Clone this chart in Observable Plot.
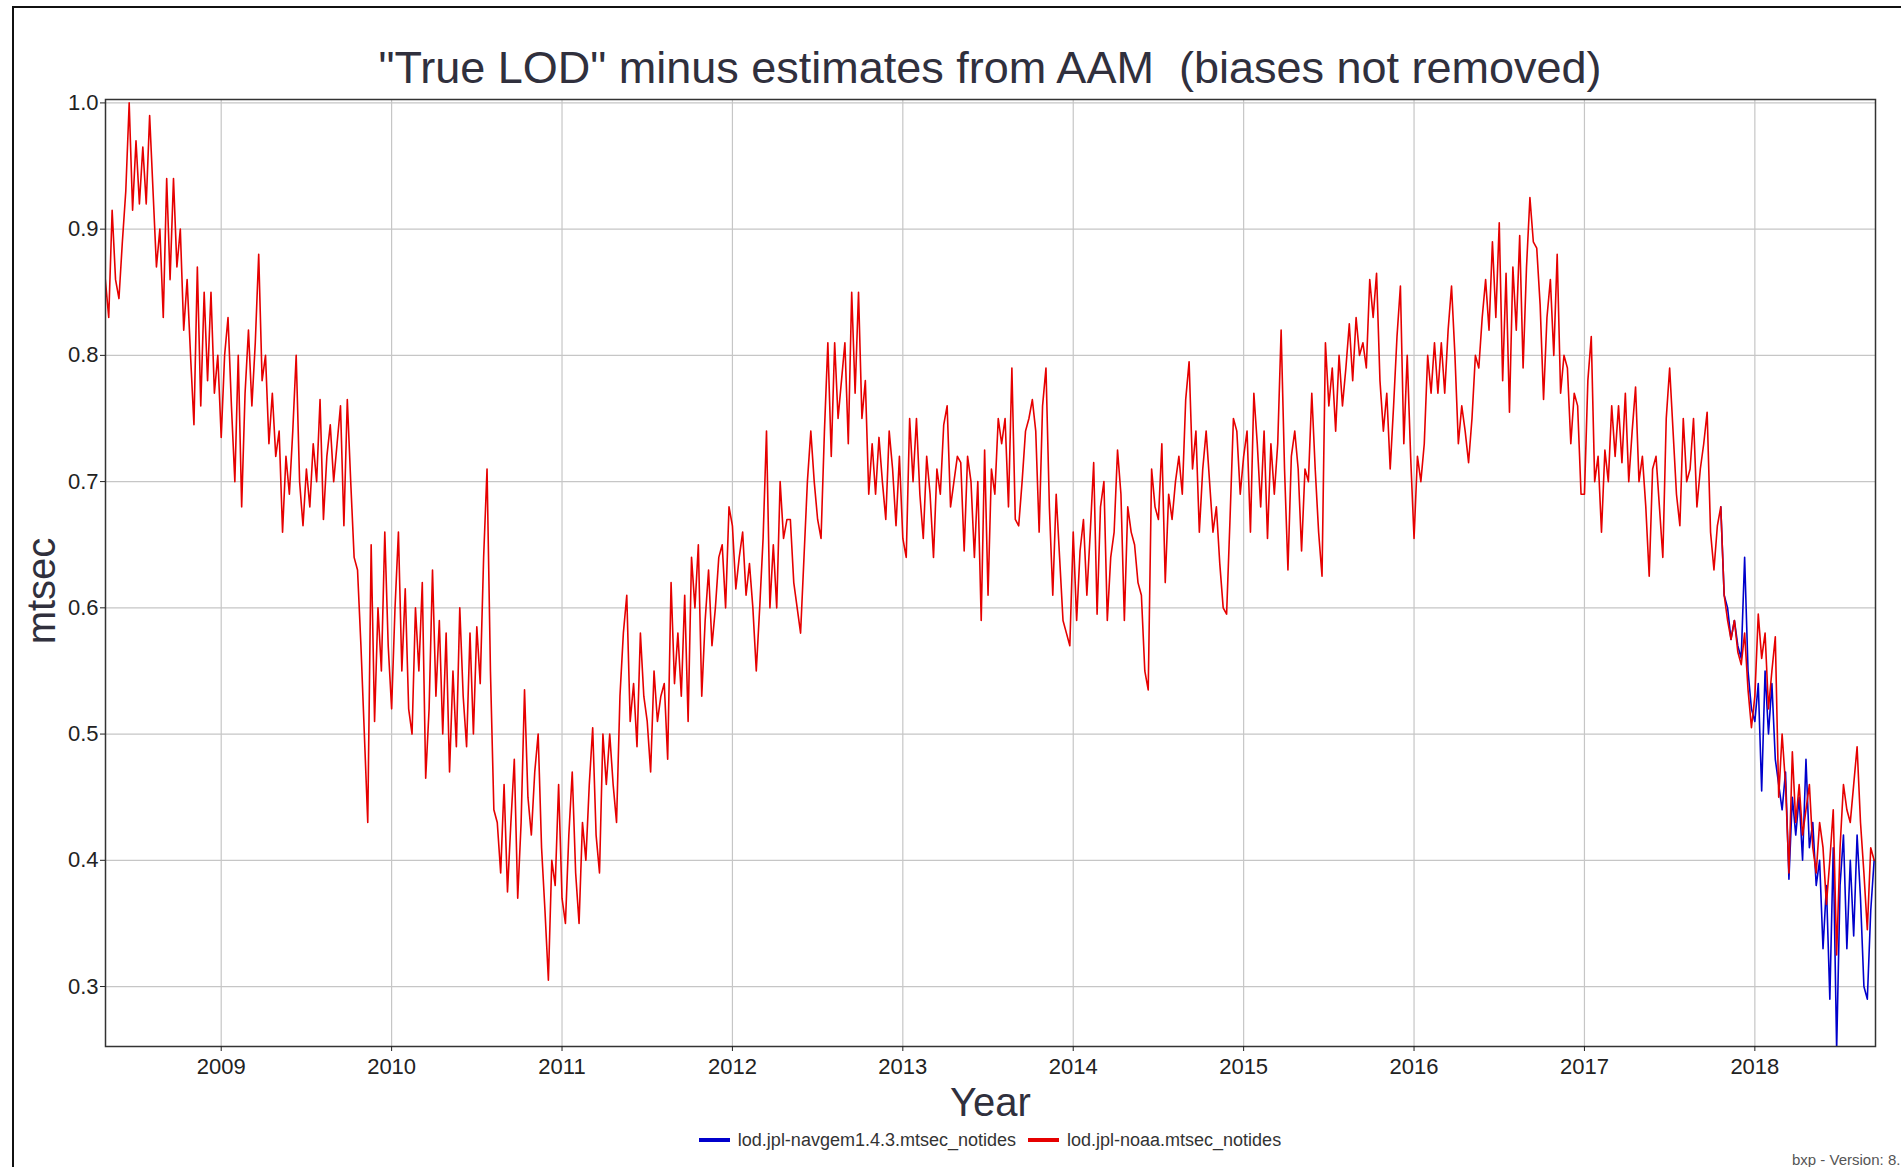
<!DOCTYPE html>
<html>
<head>
<meta charset="utf-8">
<script src="https://cdn.jsdelivr.net/npm/d3@7"></script>
<script src="https://cdn.jsdelivr.net/npm/@observablehq/plot@0.6"></script>
<style>
  html, body { margin: 0; padding: 0; background: #fff; overflow: hidden; width: 1901px; height: 1167px; }
  #page { position: relative; width: 1901px; height: 1167px; font-family: "Liberation Sans", Arial, sans-serif; overflow: hidden; }
  #frame { position: absolute; left: 12px; top: 6px; width: 1960px; height: 1220px; border-left: 2px solid #111; border-top: 2px solid #111; box-sizing: border-box; }
  #title { position: absolute; left: 105px; width: 1770px; top: 45px; text-align: center; font-size: 45px; line-height: 45px; color: #30303d; white-space: pre; }
  #chart { position: absolute; left: 0; top: 90px; }
  #legend { position: absolute; left: 105px; width: 1770px; top: 1131px; height: 18px; display: flex; justify-content: center; align-items: center; font-size: 18px; line-height: 18px; color: #333; }
  #legend .sw { display: inline-block; width: 31px; height: 4px; margin: 0 8px 0 12px; }
  #legend .sw:first-child { margin-left: 0; }
  #caption { position: absolute; left: 1792px; top: 1151px; font-size: 15px; line-height: 17px; color: #555; white-space: nowrap; }
</style>
</head>
<body>
<div id="page">
  <div id="frame"></div>
  <div id="title"></div>
  <div id="chart"></div>
  <div id="legend"></div>
  <div id="caption"></div>
</div>
<script>
// ---------------- DATA ----------------
const titleText = "\"True LOD\" minus estimates from AAM  (biases not removed)";
const xLabel = "Year";
const yLabel = "mtsec";
const captionText = "bxp - Version: 8.";
const seriesNames = ["lod.jpl-navgem1.4.3.mtsec_notides", "lod.jpl-noaa.mtsec_notides"];
const seriesColors = ["#0000cc", "#e60000"];
const xTicks = [2009, 2010, 2011, 2012, 2013, 2014, 2015, 2016, 2017, 2018];
const yTicks = [0.3, 0.4, 0.5, 0.6, 0.7, 0.8, 0.9, 1.0];
const xDomain = [2008.321, 2018.708];
const yDomain = [0.2525, 1.0027];

// sampling step of the values below (decimal years, ~weekly)
const STEP = 0.02;

// red series: lod.jpl-noaa.mtsec_notides
const red2008 = [0.86,0.83,0.915,0.86,0.845,0.89,0.93,1.0,0.915,0.97,0.92,0.965,0.92,0.99,0.93,0.87,0.90,0.83,0.94,0.86,0.94,0.87,0.90,0.82,0.86,0.80,0.745,0.87,0.76,0.85,0.78,0.85,0.77,0.80];
const red2009 = [0.735,0.80,0.83,0.76,0.70,0.80,0.68,0.77,0.82,0.76,0.81,0.88,0.78,0.80,0.73,0.77,0.72,0.74,0.66,0.72,0.69,0.74,0.80,0.70,0.665,0.71,0.68,0.73,0.70,0.765,0.67,0.72,0.745,0.70,0.73,0.76,0.665,0.765,0.70,0.64,0.63,0.57,0.50,0.43,0.65,0.51,0.60,0.55,0.66,0.57];
const red2010 = [0.52,0.60,0.66,0.55,0.615,0.52,0.50,0.60,0.55,0.62,0.465,0.52,0.63,0.53,0.59,0.50,0.58,0.47,0.55,0.49,0.60,0.53,0.49,0.58,0.50,0.585,0.54,0.64,0.71,0.55,0.44,0.43,0.39,0.46,0.375,0.43,0.48,0.37,0.43,0.535,0.45,0.42,0.47,0.50,0.41,0.36,0.305,0.40,0.38,0.46];
const red2011 = [0.37,0.35,0.42,0.47,0.39,0.35,0.43,0.40,0.46,0.505,0.42,0.39,0.50,0.46,0.50,0.46,0.43,0.53,0.58,0.61,0.51,0.54,0.49,0.58,0.53,0.51,0.47,0.55,0.51,0.53,0.54,0.48,0.62,0.54,0.58,0.53,0.61,0.51,0.64,0.60,0.65,0.53,0.59,0.63,0.57,0.60,0.64,0.65,0.60,0.68];
const red2012 = [0.665,0.615,0.64,0.66,0.61,0.635,0.60,0.55,0.60,0.655,0.74,0.60,0.65,0.60,0.70,0.655,0.67,0.67,0.62,0.60,0.58,0.64,0.70,0.74,0.70,0.67,0.655,0.74,0.81,0.72,0.81,0.75,0.78,0.81,0.73,0.85,0.77,0.85,0.75,0.78,0.69,0.73,0.69,0.735,0.70,0.67,0.74,0.71,0.665,0.72];
const red2013 = [0.655,0.64,0.75,0.70,0.75,0.69,0.655,0.72,0.69,0.64,0.71,0.69,0.745,0.76,0.68,0.70,0.72,0.715,0.645,0.72,0.70,0.64,0.70,0.59,0.725,0.61,0.71,0.69,0.75,0.73,0.75,0.68,0.79,0.67,0.665,0.70,0.74,0.75,0.765,0.74,0.66,0.76,0.79,0.68,0.61,0.69,0.64,0.59,0.58,0.57];
const red2014 = [0.66,0.59,0.645,0.67,0.61,0.66,0.715,0.595,0.68,0.70,0.59,0.64,0.66,0.725,0.69,0.59,0.68,0.66,0.65,0.62,0.61,0.55,0.535,0.71,0.68,0.67,0.73,0.62,0.69,0.67,0.70,0.72,0.69,0.765,0.795,0.71,0.74,0.66,0.71,0.74,0.70,0.66,0.68,0.635,0.60,0.595,0.67,0.75,0.74,0.69];
const red2015 = [0.72,0.74,0.66,0.77,0.73,0.68,0.74,0.655,0.73,0.69,0.73,0.82,0.71,0.63,0.72,0.74,0.71,0.645,0.71,0.70,0.77,0.71,0.66,0.625,0.81,0.76,0.79,0.74,0.80,0.76,0.79,0.825,0.78,0.83,0.80,0.81,0.79,0.86,0.83,0.865,0.78,0.74,0.77,0.71,0.76,0.815,0.855,0.73,0.80,0.72];
const red2016 = [0.655,0.72,0.70,0.73,0.80,0.77,0.81,0.77,0.81,0.77,0.82,0.855,0.80,0.73,0.76,0.74,0.715,0.75,0.80,0.79,0.83,0.86,0.82,0.89,0.83,0.905,0.78,0.865,0.755,0.87,0.82,0.895,0.79,0.87,0.925,0.89,0.885,0.84,0.765,0.83,0.86,0.80,0.88,0.77,0.80,0.79,0.73,0.77,0.76,0.69];
const red2017 = [0.69,0.78,0.815,0.70,0.72,0.66,0.725,0.70,0.76,0.72,0.76,0.715,0.77,0.70,0.74,0.775,0.70,0.72,0.68,0.625,0.71,0.72,0.68,0.64,0.75,0.79,0.74,0.69,0.665,0.75,0.70,0.71,0.75,0.68,0.71,0.73,0.755,0.66,0.63,0.665,0.68,0.61,0.59,0.575,0.59,0.565,0.555,0.58,0.535,0.505];
const red2018 = [0.53,0.595,0.56,0.58,0.52,0.55,0.577,0.45,0.50,0.46,0.39,0.486,0.43,0.46,0.42,0.44,0.46,0.41,0.39,0.43,0.41,0.365,0.40,0.44,0.325,0.41,0.46,0.44,0.43,0.46,0.49,0.43,0.39,0.345,0.41,0.40];

// blue series: lod.jpl-navgem1.4.3.mtsec_notides (only where it shows from under the red one)
const blueStart = 2017.80;
const blueValues = [0.68,0.61,0.60,0.575,0.59,0.57,0.56,0.64,0.55,0.52,0.51,0.54,0.455,0.55,0.50,0.54,0.48,0.46,0.44,0.47,0.385,0.45,0.42,0.45,0.40,0.48,0.41,0.43,0.38,0.40,0.33,0.38,0.29,0.41,0.25,0.38,0.42,0.33,0.40,0.34,0.42,0.37,0.30,0.29,0.36,0.40];

const redSegments = [
  [2008.32, red2008], [2009, red2009], [2010, red2010], [2011, red2011], [2012, red2012],
  [2013, red2013], [2014, red2014], [2015, red2015], [2016, red2016], [2017, red2017], [2018, red2018]
];

// ---------------- BUILD ----------------
const toRows = (start, values) => values.map((v, i) => ({ t: +(start + i * STEP).toFixed(3), v }));
const redRows = redSegments.flatMap(([s, vals]) => toRows(s, vals));
const blueRows = toRows(blueStart, blueValues);

document.getElementById("title").textContent = titleText;
document.getElementById("caption").textContent = captionText;
const legend = document.getElementById("legend");
seriesNames.forEach((name, i) => {
  const sw = document.createElement("span");
  sw.className = "sw";
  sw.style.background = seriesColors[i];
  legend.appendChild(sw);
  const tx = document.createElement("span");
  tx.textContent = name;
  legend.appendChild(tx);
});

const chart = Plot.plot({
  width: 1901,
  height: 1036,
  marginLeft: 105,
  marginRight: 26,
  marginTop: 9,
  marginBottom: 80,
  style: { fontFamily: "'Liberation Sans', Arial, sans-serif", fontSize: "22px", background: "transparent", color: "#222" },
  x: { domain: xDomain, label: null },
  y: { domain: yDomain, label: null },
  marks: [
    Plot.gridX(xTicks, { stroke: "#c6c6c6", strokeOpacity: 1, strokeWidth: 1.2 }),
    Plot.gridY(yTicks, { stroke: "#c6c6c6", strokeOpacity: 1, strokeWidth: 1.2 }),
    Plot.line(blueRows, { x: "t", y: "v", stroke: seriesColors[0], strokeWidth: 1.6, clip: true }),
    Plot.line(redRows, { x: "t", y: "v", stroke: seriesColors[1], strokeWidth: 1.6, clip: true }),
    Plot.frame({ stroke: "#333", strokeWidth: 1.5 }),
    Plot.axisX(xTicks, { tickFormat: d => String(d), tickSize: 5, tickPadding: 7, fontSize: 22, label: null, color: "#222" }),
    Plot.axisY(yTicks, { tickFormat: d => d.toFixed(1), tickSize: 5, tickPadding: 2, fontSize: 22, label: null, color: "#222" }),
    Plot.text([xLabel], { frameAnchor: "bottom", dy: 69, fontSize: 40, fill: "#30303d", text: d => d }),
    Plot.text([yLabel], { frameAnchor: "left", textAnchor: "middle", dx: -63, dy: 18, rotate: -90, fontSize: 40, fill: "#30303d", text: d => d })
  ]
});
document.getElementById("chart").appendChild(chart);
</script>
</body>
</html>
